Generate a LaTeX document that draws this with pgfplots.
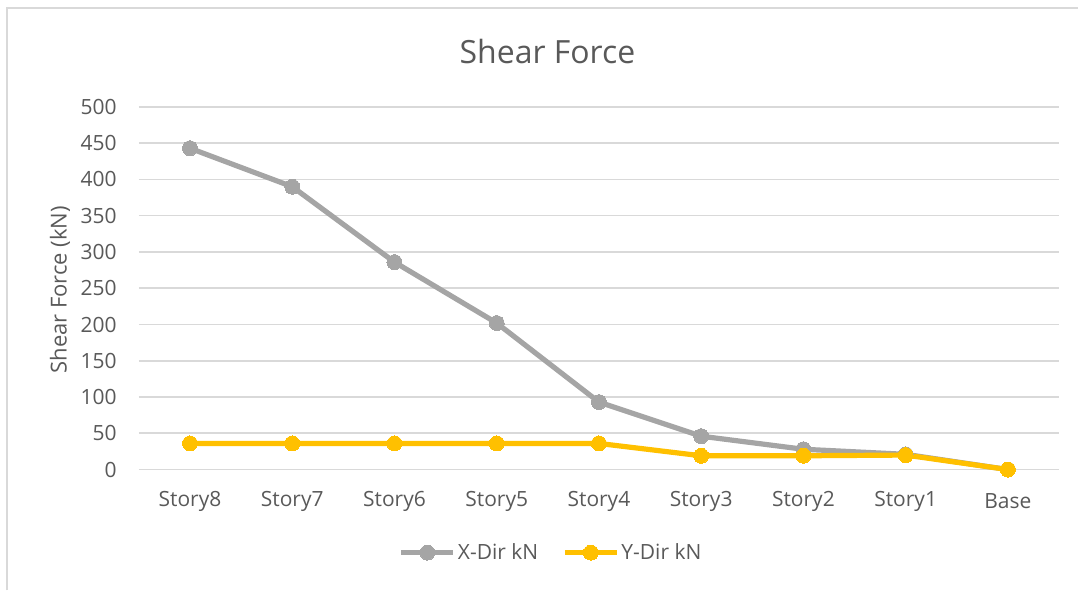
\documentclass[border=0pt]{standalone}
\usepackage{pgfplots}
\pgfplotsset{compat=1.18}
\usepackage{fontspec}
\setmainfont{Open Sans}
\definecolor{xgray}{HTML}{A5A5A5}
\definecolor{yorange}{HTML}{FFC000}
\definecolor{gridc}{HTML}{D9D9D9}
\definecolor{txt}{HTML}{595959}
\definecolor{frame}{HTML}{D9D9D9}
\begin{document}
\begin{tikzpicture}
\path (0pt,0pt) rectangle (1079pt,591pt);
\draw[frame, line width=2pt] (7pt,0pt) -- (7pt,583pt) -- (1079pt,583pt);
\begin{axis}[
  at={(139pt,121pt)}, anchor=south west,
  scale only axis, width=921pt, height=363pt,
  xmin=-0.5, xmax=8.5, ymin=0, ymax=500,
  xtick={0,...,8},
  xticklabels={Story8,Story7,Story6,Story5,Story4,Story3,Story2,Story1,Base},
  ytick={0,50,...,500},
  axis line style={draw=none},
  major tick length=0pt,
  ymajorgrids, grid style={gridc, line width=1.6pt},
  /pgf/number format/assume math mode=true,
  ticklabel style={font=\fontsize{21}{25}\selectfont, text=txt},
  yticklabel style={anchor=east, inner sep=0pt, xshift=-22pt},
  xticklabel style={anchor=center, inner sep=0pt, yshift=-32pt},
  legend style={at={(0.448,-0.229)}, anchor=center, draw=none, fill=none,
    legend columns=2, font=\fontsize{21}{25}\selectfont, text=txt,
    /tikz/every even column/.append style={column sep=22pt}},
  legend image code/.code={
    \draw[#1, mark repeat=2, mark phase=2] plot coordinates {(0pt,0pt) (26pt,0pt) (52pt,0pt)};
  },
  clip=false,
]
\addplot[xgray, line width=5.2pt, mark=*, mark size=7.5pt, mark options={line width=0pt, fill=xgray, draw=xgray}]
  coordinates {(0,443) (1,390) (2,286) (3,202) (4,93) (5,46) (6,28) (7,21) (8,0)};
\addlegendentry{X-Dir kN}
\addplot[yorange, line width=5.2pt, mark=*, mark size=7.5pt, mark options={line width=0pt, fill=yorange, draw=yorange}]
  coordinates {(0,36) (1,36) (2,36) (3,36) (4,36) (5,19) (6,19) (7,20) (8,0)};
\addlegendentry{Y-Dir kN}
\end{axis}
\node[text=txt, font=\fontsize{32}{38}\selectfont] at (548pt,539pt) {Shear Force};
\node[text=txt, font=\fontsize{22}{26}\selectfont, rotate=90] at (60pt,301pt) {Shear Force (kN)};
\end{tikzpicture}
\end{document}
